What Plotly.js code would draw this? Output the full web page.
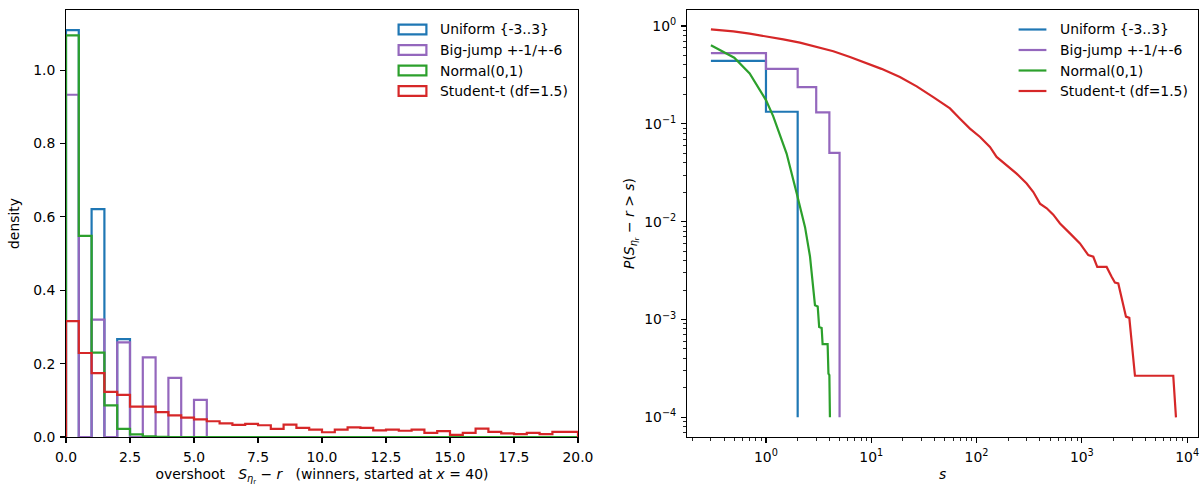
<!DOCTYPE html>
<html><head><meta charset="utf-8">
<script src="https://cdn.plot.ly/plotly-3.0.1.min.js"></script>
<style>html,body{margin:0;padding:0;background:#fff;} #chart{width:1202px;height:490px;}</style>
</head><body><div id="chart"></div>
<script>
// ---------- data ----------
const seriesNames = ['Uniform {-3..3}', 'Big-jump +-1/+-6', 'Normal(0,1)', 'Student-t (df=1.5)'];
const seriesColors = ['#1f77b4', '#9467bd', '#2ca02c', '#d62728'];

// left panel: density histogram, bins of width 0.5 starting at 0
const binStart = 0;
const binWidth = 0.5;
const densUniform = [1.109, 0, 0.621, 0, 0.267, 0, 0, 0, 0, 0,
  0, 0, 0, 0, 0, 0, 0, 0, 0, 0,
  0, 0, 0, 0, 0, 0, 0, 0, 0, 0,
  0, 0, 0, 0, 0, 0, 0, 0, 0, 0];
const densBigJump = [0.933, 0, 0.320, 0, 0.258, 0, 0.217, 0, 0.161, 0,
  0.101, 0, 0, 0, 0, 0, 0, 0, 0, 0,
  0, 0, 0, 0, 0, 0, 0, 0, 0, 0,
  0, 0, 0, 0, 0, 0, 0, 0, 0, 0];
const densNormal = [1.095, 0.548, 0.230, 0.086, 0.022, 0.007, 0.002, 0.0005, 0, 0,
  0, 0, 0, 0, 0, 0, 0, 0, 0, 0,
  0, 0, 0, 0, 0, 0, 0, 0, 0, 0,
  0, 0, 0, 0, 0, 0, 0, 0, 0, 0];
const densStudent = [0.316, 0.229, 0.174, 0.123, 0.115, 0.083, 0.083, 0.068, 0.059, 0.053,
  0.048, 0.043, 0.037, 0.033, 0.036, 0.032, 0.022, 0.034, 0.025, 0.020,
  0.013, 0.020, 0.026, 0.025, 0.018, 0.020, 0.017, 0.020, 0.011, 0.016,
  0.006, 0.011, 0.023, 0.014, 0.010, 0.008, 0.011, 0.008, 0.014, 0.014];

// right panel: survival P(S - r > s)
const sUniform = [0.3, 1, 2];
const pUniform = [0.441, 0.133, 0.0001];
const sBigJump = [0.3, 1, 2, 3, 4, 5];
const pBigJump = [0.528, 0.365, 0.238, 0.131, 0.0505, 0.0001];
const sNormal = [0.3, 0.4, 0.5, 0.7, 1.0, 1.17, 1.57, 1.96, 2.35, 2.62, 2.81, 2.92, 3.1, 3.2, 3.38, 3.45, 3.85, 3.92, 4.0, 4.05];
const pNormal = [0.635, 0.545, 0.475, 0.328, 0.175, 0.12, 0.0497, 0.0194, 0.0088, 0.0044, 0.0022, 0.0014, 0.00136, 0.00084, 0.00082, 0.00056, 0.00056, 0.00028, 0.00027, 0.0001];
const sStudent = [0.3, 0.49, 0.7, 1.0, 1.46, 2.1, 3.03, 4.36, 6.28, 9.04, 12.5, 18.7, 27, 38.8, 55.9, 69.6, 86.5, 108, 134, 155, 193, 240, 299, 346, 400, 464, 535, 620, 771, 959, 1151, 1284, 1400, 1719, 1917, 2060, 2218, 2388, 2567, 2624, 2823, 3194, 7380, 7830];
const pStudent = [0.925, 0.883, 0.836, 0.79, 0.731, 0.676, 0.61, 0.552, 0.482, 0.419, 0.365, 0.301, 0.242, 0.188, 0.144, 0.113, 0.0895, 0.0735, 0.058, 0.0459, 0.0378, 0.031, 0.0246, 0.0201, 0.0153, 0.0137, 0.0118, 0.0096, 0.0076, 0.006, 0.00455, 0.00438, 0.00345, 0.00345, 0.00273, 0.00239, 0.00234, 0.0017, 0.00125, 0.00107, 0.00104, 0.000266, 0.000266, 0.0001];

const xTickVals2 = [1, 10, 100, 1000, 10000];
const xTickText2 = ['10<sup>0</sup>', '10<sup>1</sup>', '10<sup>2</sup>', '10<sup>3</sup>', '10<sup>4</sup>'];
const yTickVals2 = [1e-4, 1e-3, 1e-2, 1e-1, 1];
const yTickText2 = ['10<sup>\u22124</sup>', '10<sup>\u22123</sup>', '10<sup>\u22122</sup>', '10<sup>\u22121</sup>', '10<sup>0</sup>'];

// ---------- layout helpers ----------
const W = 1202, H = 490;
const px = x => x / W, py = y => 1 - y / H;
const FONT = 'DejaVu Sans, sans-serif';
const FS = 13.9;
const LW = 2.2;

function stepPath(d) {
  const xs = [binStart], ys = [0];
  for (let i = 0; i < d.length; i++) { xs.push(binStart + i * binWidth); ys.push(d[i]); }
  xs.push(binStart + d.length * binWidth); ys.push(0);
  return {xs, ys};
}

const hists = [densUniform, densBigJump, densNormal, densStudent];
const traces = [];
hists.forEach((d, k) => {
  const p = stepPath(d);
  traces.push({type: 'scatter', mode: 'lines', x: p.xs, y: p.ys, name: seriesNames[k],
    line: {shape: 'hv', color: seriesColors[k], width: LW}, xaxis: 'x', yaxis: 'y', showlegend: false, hoverinfo: 'skip'});
});
const surv = [[sUniform, pUniform, 'hv'], [sBigJump, pBigJump, 'hv'], [sNormal, pNormal, 'linear'], [sStudent, pStudent, 'linear']];
surv.forEach((s, k) => {
  traces.push({type: 'scatter', mode: 'lines', x: s[0], y: s[1], name: seriesNames[k],
    line: {shape: s[2], color: seriesColors[k], width: LW}, xaxis: 'x2', yaxis: 'y2', showlegend: false, hoverinfo: 'skip'});
});

function minorVals(lo, hi) {
  const v = [];
  for (let e = lo; e <= hi; e++) for (let m = 2; m <= 9; m++) v.push(m * Math.pow(10, e));
  return v;
}

const tickFont = {family: FONT, size: FS, color: '#000'};
const titleFont = {family: FONT, size: FS, color: '#000'};
const common = {ticks: 'outside', ticklen: 4.9, tickwidth: 1.1, tickcolor: '#000', showline: true, linecolor: '#000',
  linewidth: 1.1, mirror: true, showgrid: false, zeroline: false, tickfont: tickFont, automargin: false, ticklabelstandoff: 2};
const minorStyle = {tickmode: 'array', ticks: 'outside', ticklen: 2.8, tickwidth: 0.85, tickcolor: '#000'};

const yDom = [py(437), py(10)];

// legends (matplotlib style, upper right, no frame)
const shapes = [], annotations = [];
const legRows = [29.5, 50, 70.5, 91];
const legendLeft = {handleX0: 398.6, handleX1: 426.4, textX: 437.5};
const legendRight = {handleX0: 1018.6, handleX1: 1046.4, textX: 1057.5};
seriesNames.forEach((n, k) => {
  const r = legRows[k];
  shapes.push({type: 'rect', xref: 'paper', yref: 'paper', x0: px(legendLeft.handleX0), x1: px(legendLeft.handleX1),
    y0: py(r + 4.85), y1: py(r - 4.85), line: {color: seriesColors[k], width: 2.2}, fillcolor: 'rgba(0,0,0,0)'});
  annotations.push({xref: 'paper', yref: 'paper', x: px(legendLeft.textX), y: py(r), xanchor: 'left', yanchor: 'middle',
    text: n, showarrow: false, font: {family: FONT, size: FS, color: '#000'}});
  shapes.push({type: 'line', xref: 'paper', yref: 'paper', x0: px(legendRight.handleX0), x1: px(legendRight.handleX1), y0: py(r), y1: py(r),
    line: {color: seriesColors[k], width: LW}});
  annotations.push({xref: 'paper', yref: 'paper', x: px(legendRight.textX), y: py(r), xanchor: 'left', yanchor: 'middle',
    text: n, showarrow: false, font: {family: FONT, size: FS, color: '#000'}});
});

const layout = {
  width: W, height: H, margin: {l: 0, r: 0, t: 0, b: 0},
  paper_bgcolor: '#fff', plot_bgcolor: '#fff', showlegend: false,
  font: {family: FONT, size: FS, color: '#000'},
  xaxis: Object.assign({}, common, {domain: [px(66), px(578)], range: [0, 20], tick0: 0, dtick: 2.5, tickformat: '.1f', anchor: 'y',
    title: {text: 'overshoot\u00a0\u00a0\u00a0<i>S</i><sub><i>\u03b7</i><sub>r</sub></sub>\u00a0\u2212\u00a0<i>r</i>\u00a0\u00a0\u00a0(winners, started at <i>x</i>\u00a0=\u00a040)', font: titleFont, standoff: 5}}),
  yaxis: Object.assign({}, common, {domain: yDom, range: [0, 1.164], tick0: 0, dtick: 0.2, tickformat: '.1f', anchor: 'x',
    title: {text: 'density', font: titleFont, standoff: 10}}),
  xaxis2: Object.assign({}, common, {type: 'log', domain: [px(687), px(1198)], range: [-0.750, 4.103], anchor: 'y2',
    tickmode: 'array', tickvals: xTickVals2, ticktext: xTickText2,
    minor: Object.assign({tickvals: minorVals(-1, 3)}, minorStyle),
    title: {text: '<i>s</i>', font: titleFont, standoff: 5}}),
  yaxis2: Object.assign({}, common, {type: 'log', domain: yDom, range: [-4.201, 0.164], anchor: 'x2',
    tickmode: 'array', tickvals: yTickVals2, ticktext: yTickText2,
    minor: Object.assign({tickvals: minorVals(-5, -1)}, minorStyle),
    title: {text: '<i>P</i>(<i>S</i><sub><i>\u03b7</i><sub>r</sub></sub>\u00a0\u2212\u00a0<i>r</i> &gt; <i>s</i>)', font: titleFont, standoff: 6}}),
  shapes: shapes, annotations: annotations
};

Plotly.newPlot('chart', traces, layout, {displayModeBar: false, staticPlot: true});
</script>
</body></html>
